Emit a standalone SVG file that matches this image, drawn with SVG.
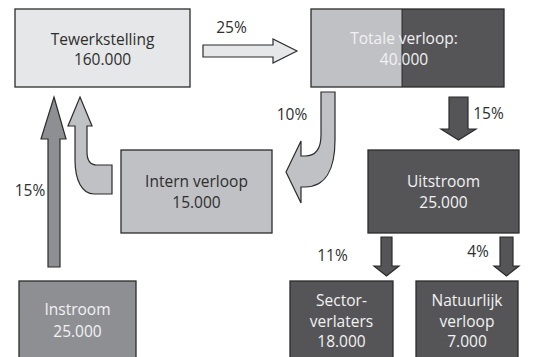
<svg xmlns="http://www.w3.org/2000/svg" width="542" height="357" viewBox="0 0 542 357">
<style>
.box{stroke:#2b2b2b;stroke-width:1.3}
.lt{fill:#e6e7e8}
.md{fill:#c0c1c4}
.mg{fill:#8e8f93}
.dk{fill:#555558}
.arr{stroke:#2b2b2b;stroke-width:1.2;stroke-linejoin:miter}
text{font-family:"Open Sans","Noto Sans",sans-serif;font-size:15.5px;text-anchor:middle}
.dt{fill:#2e2e2e}
.wt{fill:#f2f2f2}
.pct{fill:#2e2e2e;font-size:15.5px}
</style>
<rect width="542" height="357" fill="#ffffff"/>
<g id="connectors">
<path class="arr lt" d="M203,45 L273,45 L273,39 L297,51 L273,63 L273,57 L203,57 Z"/>
<path class="arr md" d="M321,92 L335,92 L335,140 C335,170 325,187 305,187 L301,187 L301,203 L286,172 L301,141 L301,156 L305,156 C315,156 321,150 321,135 Z"/>
<path class="arr dk" d="M449,97 L468,97 L468,129 L476,129 L458.5,140 L441,129 L449,129 Z"/>
<path class="arr md" d="M80,97 L92,126 L87,126 L87,152 C87,160 90,165 97,165 L112,165 L112,194 L94,194 C82,194 75,180 75,160 L75,126 L68,126 Z"/>
<path class="arr mg" d="M54,97 L66,139 L60,139 L60,267 L48,267 L48,139 L41,139 Z"/>
<path class="arr dk" d="M381,237 L392,237 L392,266 L399,266 L386.5,276 L374,266 L381,266 Z"/>
<path class="arr dk" d="M500,237 L513,237 L513,266 L519,266 L506.5,276 L494,266 L500,266 Z"/>
<text class="pct" x="231.5" y="33">25%</text>
<text class="pct" x="292" y="120">10%</text>
<text class="pct" x="488.5" y="119">15%</text>
<text class="pct" x="30" y="196">15%</text>
<text class="pct" x="332.5" y="261">11%</text>
<text class="pct" x="478" y="257">4%</text>
</g>
<g id="tewerkstelling">
<rect class="box lt" x="15" y="9" width="175" height="78"/>
<text class="dt" x="102.5" y="45">Tewerkstelling</text>
<text class="dt" x="102.5" y="65">160.000</text>
</g>
<g id="totale-verloop">
<rect class="md" x="311" y="9" width="91" height="78"/>
<rect class="dk" x="402" y="9" width="102" height="78"/>
<line x1="402" y1="9" x2="402" y2="87" stroke="#2b2b2b" stroke-width="1"/>
<rect x="311" y="9" width="193" height="78" fill="none" class="box"/>
<text class="wt" x="404" y="44">Totale verloop:</text>
<text class="wt" x="404" y="65">40.000</text>
</g>
<g id="intern-verloop">
<rect class="box md" x="121" y="150" width="151" height="83"/>
<text class="dt" x="196.5" y="187">Intern verloop</text>
<text class="dt" x="196.5" y="208">15.000</text>
</g>
<g id="uitstroom">
<rect class="box dk" x="368" y="150" width="151" height="83"/>
<text class="wt" x="443.5" y="187">Uitstroom</text>
<text class="wt" x="443.5" y="208">25.000</text>
</g>
<g id="instroom">
<rect class="box mg" x="19" y="281" width="117" height="85"/>
<text class="wt" x="77.5" y="315">Instroom</text>
<text class="wt" x="77.5" y="337">25.000</text>
</g>
<g id="sectorverlaters">
<rect class="box dk" x="290" y="281" width="103" height="85"/>
<text class="wt" x="341.5" y="306">Sector-</text>
<text class="wt" x="341.5" y="327">verlaters</text>
<text class="wt" x="341.5" y="347">18.000</text>
</g>
<g id="natuurlijk-verloop">
<rect class="box dk" x="416" y="281" width="102" height="85"/>
<text class="wt" x="467" y="306">Natuurlijk</text>
<text class="wt" x="467" y="327">verloop</text>
<text class="wt" x="467" y="347">7.000</text>
</g>
</svg>
